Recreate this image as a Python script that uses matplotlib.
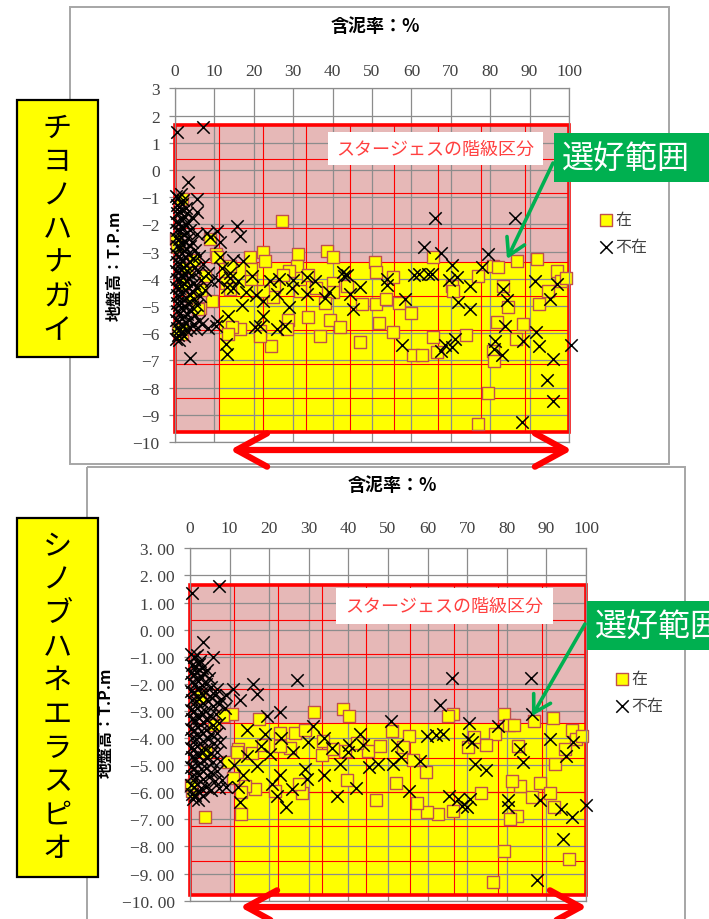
import numpy as np
import matplotlib
matplotlib.use("Agg")
import matplotlib.pyplot as plt
from matplotlib.patches import Rectangle, FancyArrowPatch
from matplotlib.ticker import FuncFormatter

plt.rcParams['font.family'] = ['Noto Sans CJK JP', 'DejaVu Sans']

W, H = 709, 920

# ---- text ----
species_names = ["チヨノハナガイ", "シノブハネエラスピオ"]
x_title = "含泥率：%"
y_title = "地盤高：T.P.m"
legend_labels = ["在", "不在"]
stage_label = "スタージェスの階級区分"
pref_label = "選好範囲"

x_ticks = list(range(0, 101, 10))
y_ticks = list(range(-10, 4))

# Sturges classes (9 classes on each axis) and preferred range
n_class = 9
stage_x = [(0, 100), (0, 100)]
stage_y = [(-9.65, 1.65), (-9.8, 1.63)]
pref_col_start = 1   # preferred range from class 1 on the x axis
pref_row_top = 5     # and up to class edge 5 on the y axis

# ---- data: (含泥率, 地盤高) ----
top_present = [
    (27.2, -1.88), (8.9, -2.55), (10.4, -3.09), (14.0, -3.52), (19.0, -3.20), (22.4, -3.03),
    (22.8, -3.34), (31.3, -3.09), (30.9, -3.52), (38.5, -2.97), (40.0, -3.21), (50.8, -3.39),
    (51.0, -3.76), (55.4, -3.95), (65.6, -3.21), (77.0, -3.90), (80.8, -3.52), (82.1, -3.55),
    (86.9, -3.34), (92.0, -3.28), (96.9, -3.71), (97.9, -4.08), (99.3, -3.99), (94.7, -4.44),
    (92.5, -4.93), (83.2, -4.28), (84.6, -5.05), (81.6, -5.60), (88.4, -5.67), (86.6, -6.22),
    (80.8, -6.65), (81.0, -7.02), (79.5, -8.19), (76.8, -9.33), (70.2, -4.26), (70.5, -4.44),
    (65.6, -6.15), (66.6, -6.70), (73.9, -6.07), (59.9, -5.27), (56.9, -4.90), (55.4, -5.95),
    (60.3, -6.80), (62.6, -6.80), (51.0, -4.93), (51.9, -5.63), (53.5, -4.76), (46.9, -6.32),
    (47.4, -4.93), (43.6, -4.26), (40.0, -4.17), (40.2, -4.50), (38.1, -4.90), (39.3, -5.52),
    (41.9, -5.79), (36.9, -6.10), (33.8, -5.39), (35.9, -4.33), (33.8, -3.88), (31.6, -4.44),
    (29.0, -3.70), (28.8, -5.52), (28.4, -5.85), (27.5, -3.88), (25.1, -4.30), (24.9, -4.67),
    (22.4, -4.44), (21.6, -5.91), (24.3, -6.47), (21.6, -6.10), (19.2, -4.02), (19.2, -3.65),
    (16.5, -5.85), (14.4, -5.79), (13.5, -6.03), (13.0, -4.14), (14.0, -4.38), (9.3, -4.81),
    (10.7, -3.21), (6.3, -5.06), (1.7, -6.03),
    (0.3, -2.55), (0.4, -2.85), (1.7, -1.07), (4.2, -4.75), (1.7, -5.85), (5.9, -5.10),
    (3.0, -3.60), (2.0, -4.20), (0.8, -5.90), (4.8, -3.30), (6.5, -4.40), (7.5, -3.90),
]

top_absent = [
    (0.4, 1.38), (7.2, 1.59), (3.4, -0.46), (5.7, -1.07), (5.6, -1.56), (15.8, -2.05),
    (16.5, -2.42), (10.6, -2.24), (11.4, -2.66), (66.0, -1.75), (86.3, -1.75), (63.3, -2.82),
    (79.5, -3.09), (67.4, -3.07), (3.8, -6.90), (70.2, -3.50), (77.8, -3.58), (17.2, -3.34),
    (11.4, -3.20), (42.7, -3.76), (43.6, -3.88), (44.4, -4.55), (45.2, -5.11), (53.8, -4.02),
    (53.8, -4.24), (60.6, -3.88), (61.9, -3.82), (64.2, -3.82), (65.2, -3.82), (69.6, -4.04),
    (71.5, -3.94), (71.9, -4.86), (74.9, -4.27), (74.9, -5.13), (83.2, -4.37), (84.2, -4.77),
    (83.8, -5.75), (91.3, -4.08), (95.2, -4.73), (96.9, -4.18), (91.6, -5.94), (92.5, -6.48),
    (88.4, -6.29), (96.0, -6.96), (100.5, -6.45), (94.5, -7.72), (96.0, -8.49), (88.0, -9.27),
    (81.3, -6.29), (82.9, -6.80), (81.0, -6.57), (71.1, -6.20), (70.2, -6.50), (68.5, -6.45),
    (67.4, -6.67), (57.5, -6.42), (58.4, -4.76), (39.2, -4.50), (33.4, -4.57), (33.4, -3.94),
    (30.0, -4.04), (29.6, -4.33), (29.0, -5.04), (27.9, -5.74), (25.8, -5.86), (25.8, -4.57),
    (22.4, -4.80), (22.4, -5.36), (21.6, -5.72), (20.3, -5.79), (14.8, -4.33), (14.0, -3.78),
    (14.8, -3.30), (17.0, -4.96), (13.5, -5.36), (13.0, -6.41), (13.2, -6.78), (10.7, -5.55),
    (10.5, -5.72), (6.8, -5.67), (11.0, -4.04), (13.1, -4.29), (14.0, -3.97), (8.1, -2.30),
    (9.0, -2.45), (12.0, -3.60), (16.0, -4.10), (19.5, -3.90), (18.0, -4.50), (24.0, -4.10),
    (26.5, -4.00), (35.5, -4.10), (38.0, -4.70), (47.0, -4.30), (20.5, -4.60), (43.0, -3.90),
    # dense cluster at low mud content
    (0.2, -0.95), (0.8, -1.05), (1.5, -0.90), (2.1, -1.10), (0.4, -1.30), (1.1, -1.35),
    (1.9, -1.25), (2.7, -1.40), (0.6, -1.60), (1.3, -1.55), (2.2, -1.70), (3.0, -1.60),
    (4.5, -1.75), (0.3, -1.90), (1.0, -1.95), (1.7, -1.85), (2.5, -2.00), (3.4, -1.95),
    (0.5, -2.20), (1.2, -2.25), (2.0, -2.15), (2.9, -2.30), (3.8, -2.20), (5.5, -2.35),
    (0.2, -2.50), (0.9, -2.55), (1.6, -2.45), (2.3, -2.60), (3.2, -2.50), (4.3, -2.65),
    (0.6, -2.80), (1.3, -2.85), (2.0, -2.75), (2.8, -2.90), (3.7, -2.80), (5.0, -2.95),
    (0.3, -3.10), (1.0, -3.15), (1.7, -3.05), (2.5, -3.20), (3.3, -3.10), (4.6, -3.25),
    (6.1, -3.15), (0.5, -3.40), (1.2, -3.45), (1.9, -3.35), (2.7, -3.50), (3.7, -3.40),
    (5.2, -3.55), (7.1, -3.45), (0.2, -3.70), (0.9, -3.75), (1.6, -3.65), (2.3, -3.80),
    (3.1, -3.70), (4.1, -3.85), (5.9, -3.75), (8.3, -3.80), (0.6, -4.00), (1.3, -4.05),
    (2.0, -3.95), (2.8, -4.10), (3.6, -4.00), (4.7, -4.15), (6.6, -4.05), (9.1, -4.10),
    (0.3, -4.30), (1.0, -4.35), (1.7, -4.25), (2.5, -4.40), (3.4, -4.30), (4.3, -4.45),
    (5.6, -4.35), (7.6, -4.40), (0.5, -4.60), (1.1, -4.65), (1.9, -4.55), (2.7, -4.70),
    (3.7, -4.60), (4.9, -4.75), (6.3, -4.65), (0.4, -4.90), (0.9, -4.95), (1.6, -4.85),
    (2.3, -5.00), (3.2, -4.90), (4.4, -5.05), (5.6, -4.95), (0.6, -5.20), (1.3, -5.25),
    (2.1, -5.15), (3.0, -5.30), (4.0, -5.20), (5.1, -5.35), (0.3, -5.50), (1.0, -5.55),
    (1.7, -5.45), (2.6, -5.60), (3.6, -5.50), (4.7, -5.65), (6.1, -5.55), (0.5, -5.80),
    (1.2, -5.85), (2.0, -5.75), (2.9, -5.90), (3.9, -5.80), (5.3, -5.85), (8.5, -5.80),
    (0.7, -6.05), (1.5, -6.00), (2.4, -6.10), (0.3, -6.20), (1.1, -6.25),
]

bottom_present = [
    (3.8, -6.90), (13.0, -6.81), (10.5, -3.11), (17.3, -3.30), (31.2, -3.05), (38.6, -2.93),
    (40.2, -3.20), (51.0, -3.73), (55.4, -3.91), (66.5, -3.11), (65.2, -3.20), (79.3, -3.11),
    (80.6, -3.52), (81.8, -3.52), (86.9, -3.36), (91.6, -3.27), (96.4, -3.69), (97.6, -4.04),
    (98.9, -3.94), (76.9, -3.85), (74.8, -4.25), (82.9, -4.28), (70.3, -4.34), (71.6, -3.97),
    (94.7, -4.41), (92.2, -4.96), (88.4, -5.64), (91.0, -6.03), (91.9, -6.56), (86.3, -6.19),
    (83.3, -5.76), (81.2, -5.58), (82.5, -6.87), (80.8, -6.97), (79.3, -8.16), (95.7, -8.47),
    (76.6, -9.30), (73.6, -6.03), (66.3, -6.68), (62.5, -6.81), (59.8, -6.74), (57.4, -6.40),
    (52.0, -5.65), (59.6, -5.26), (56.2, -4.81), (53.9, -4.34), (47.0, -6.30), (39.6, -5.56),
    (45.0, -4.46), (39.1, -4.49), (42.1, -4.18), (33.3, -4.61), (33.5, -4.12), (28.2, -6.01),
    (27.4, -5.70), (25.3, -4.36), (26.5, -3.80), (22.7, -3.80), (22.7, -4.29), (21.5, -5.94),
    (16.4, -5.88), (13.9, -5.76), (10.9, -5.49), (9.7, -4.87), (12.2, -4.41), (15.6, -4.56),
    (18.5, -4.27), (29.0, -3.69), (8.4, -3.20), (11.8, -4.50), (13.0, -6.00), (0.4, -5.95),
    (0.3, -5.75), (36.0, -4.40), (48.0, -4.30), (2.5, -2.50), (6.0, -3.50), (4.0, -4.50),
]

bottom_absent = [
    (26.9, -1.85), (66.1, -1.77), (86.0, -1.77), (63.1, -2.77), (16.0, -2.01), (16.8, -2.38),
    (10.9, -2.20), (22.7, -3.03), (19.4, -3.20), (50.7, -3.36), (70.5, -3.45), (77.7, -3.57),
    (86.3, -3.11), (90.9, -4.04), (96.6, -4.16), (94.9, -4.66), (83.3, -4.41), (84.2, -4.90),
    (72.0, -4.96), (74.8, -5.17), (70.3, -4.04), (71.1, -4.16), (63.8, -3.85), (62.1, -3.88),
    (59.8, -3.93), (58.1, -4.83), (55.4, -5.94), (53.4, -4.70), (52.2, -4.27), (51.2, -4.96),
    (47.4, -4.96), (45.3, -5.08), (43.6, -4.27), (42.9, -3.85), (40.2, -4.27), (40.0, -4.52),
    (37.9, -4.96), (37.2, -6.15), (41.9, -5.86), (33.8, -5.36), (35.8, -4.36), (33.8, -4.00),
    (31.1, -3.57), (29.0, -5.15), (29.5, -5.52), (25.7, -5.89), (24.2, -6.56), (21.9, -6.13),
    (22.7, -5.38), (20.6, -5.70), (20.2, -4.59), (16.8, -5.02), (14.3, -4.66), (12.6, -6.37),
    (13.5, -5.38), (14.3, -3.69), (19.0, -3.85), (23.1, -4.00), (29.9, -4.16), (80.4, -6.30),
    (80.4, -6.56), (67.8, -6.25), (68.6, -6.50), (70.7, -6.25), (69.9, -6.56), (65.5, -6.13),
    (88.4, -6.30), (93.8, -6.62), (96.4, -6.93), (100.0, -6.47), (94.3, -7.72), (87.7, -9.25),
    (0.4, 1.35), (7.2, 1.60), (3.4, -0.45), (5.9, -1.02), (12.5, -2.60), (9.0, -2.40),
    (18.0, -4.30), (26.0, -4.50), (11.0, -5.00), (12.0, -5.80),
    # dense cluster at low mud content
    (0.3, -0.90), (1.0, -1.00), (1.8, -0.95), (2.6, -1.15), (0.5, -1.30), (1.3, -1.35),
    (2.2, -1.25), (3.1, -1.40), (4.2, -1.50), (0.2, -1.60), (0.9, -1.65), (1.7, -1.55),
    (2.6, -1.70), (3.6, -1.65), (4.9, -1.80), (0.5, -1.95), (1.3, -2.00), (2.1, -1.90),
    (3.0, -2.05), (4.1, -2.00), (5.4, -2.10), (6.8, -2.20), (0.3, -2.25), (1.0, -2.30),
    (1.9, -2.20), (2.8, -2.35), (3.8, -2.30), (5.0, -2.45), (6.3, -2.40), (7.8, -2.55),
    (0.6, -2.60), (1.4, -2.65), (2.3, -2.55), (3.3, -2.70), (4.5, -2.65), (5.8, -2.80),
    (7.2, -2.75), (8.8, -2.90), (0.2, -2.95), (0.9, -3.00), (1.8, -2.90), (2.7, -3.05),
    (3.8, -3.00), (5.1, -3.15), (6.6, -3.10), (0.5, -3.30), (1.3, -3.35), (2.2, -3.25),
    (3.2, -3.40), (4.4, -3.35), (5.8, -3.50), (7.4, -3.45), (0.3, -3.65), (1.0, -3.70),
    (1.9, -3.60), (2.9, -3.75), (4.0, -3.70), (5.3, -3.85), (6.9, -3.80), (0.6, -4.00),
    (1.4, -4.05), (2.3, -3.95), (3.4, -4.10), (4.6, -4.05), (6.0, -4.20), (7.7, -4.15),
    (0.2, -4.35), (0.9, -4.40), (1.8, -4.30), (2.8, -4.45), (3.9, -4.40), (5.2, -4.55),
    (6.7, -4.50), (0.5, -4.70), (1.3, -4.75), (2.2, -4.65), (3.2, -4.80), (4.4, -4.75),
    (5.8, -4.90), (7.5, -4.85), (0.3, -5.05), (1.0, -5.10), (1.9, -5.00), (2.9, -5.15),
    (4.0, -5.10), (5.3, -5.25), (6.9, -5.20), (0.6, -5.40), (1.4, -5.45), (2.3, -5.35),
    (3.4, -5.50), (4.7, -5.45), (6.2, -5.60), (8.0, -5.55), (0.2, -5.75), (0.9, -5.80),
    (1.8, -5.70), (2.8, -5.85), (4.0, -5.80), (5.4, -5.90), (7.3, -5.85), (9.2, -5.80),
    (0.5, -6.05), (1.3, -6.10), (2.3, -6.00), (3.3, -6.15), (0.8, -6.25), (1.9, -6.30),
]

# ---- layout (pixels) ----
panels = [
    dict(present=top_present, absent=top_absent, ax_px=(175, 89.3, 569, 443),
         frame=(70, 8, 669, 465), title_xy=(375, 27), ylab_xy=(115, 266), xpad=7, fmt="{:.0f}",
         box=(17, 101, 98, 358), char0=128.5, pitch=33.8,
         stage_box=(328, 133, 543, 166), pref_box=(554, 134, 720, 183),
         g_arrow=((553, 164), (507, 260)), r_arrow=((230, 451), (572, 451)), leg=(600, 212)),
    dict(present=bottom_present, absent=bottom_absent, ax_px=(190, 549.3, 586, 901.7),
         frame=(87, 468, 685, 930), title_xy=(392, 486), ylab_xy=(106, 723), xpad=8.5,
         fmt="{:.2f}", box=(17, 519, 98, 878), char0=547, pitch=33.6,
         stage_box=(336, 589, 553, 625), pref_box=(587, 602, 720, 651),
         g_arrow=((585, 625), (532, 717)), r_arrow=((240, 908), (587, 908)), leg=(616, 671)),
]

fig = plt.figure(figsize=(W / 100, H / 100), dpi=100)
ov = fig.add_axes([0, 0, 1, 1], zorder=5)
ov.set_xlim(0, W)
ov.set_ylim(H, 0)
ov.axis('off')

grid_c = '#8c8c8c'
text_c = '#404040'

for i, p in enumerate(panels):
    x0, y0, x1, y1 = p['ax_px']
    ax = fig.add_axes([x0 / W, 1 - y1 / H, (x1 - x0) / W, (y1 - y0) / H])
    ax.set_xlim(0, 100)
    ax.set_ylim(-10, 3)
    ax.xaxis.tick_top()
    ax.set_xticks(x_ticks)
    ax.set_yticks(y_ticks)
    fmt = p['fmt']
    ax.yaxis.set_major_formatter(FuncFormatter(
        lambda v, pos, fmt=fmt: fmt.format(v).replace('-', '\u2212').replace('.', '. ')))
    ax.tick_params(axis='x', length=0, pad=p['xpad'], labelsize=12.5, labelcolor=text_c,
                   labelfontfamily='Liberation Serif')
    ax.tick_params(axis='y', length=4, width=0.9, color=grid_c, pad=7, labelsize=12.5,
                   labelcolor=text_c, labelfontfamily='Liberation Serif')
    ax.grid(True, color=grid_c, lw=0.9)
    ax.set_axisbelow(True)
    for s in ax.spines.values():
        s.set_color(grid_c)
        s.set_linewidth(0.9)

    # Sturges class grid
    xe = np.linspace(stage_x[i][0], stage_x[i][1], n_class + 1)
    ye = np.linspace(stage_y[i][0], stage_y[i][1], n_class + 1)
    ax.add_patch(Rectangle((xe[0], ye[0]), xe[-1] - xe[0], ye[-1] - ye[0],
                           facecolor='#E6B8B7', edgecolor='none', zorder=0.2))
    ax.add_patch(Rectangle((xe[pref_col_start], ye[0]), xe[-1] - xe[pref_col_start],
                           ye[pref_row_top] - ye[0], facecolor='#FFFF00', edgecolor='none', zorder=0.3))
    ax.vlines(xe[1:-1], ye[0], ye[-1], color='#FF0000', lw=0.8, zorder=0.8)
    ax.hlines(ye[1:-1], xe[0], xe[-1], color='#FF0000', lw=0.8, zorder=0.8)
    ax.add_patch(Rectangle((xe[0], ye[0]), xe[-1] - xe[0], ye[-1] - ye[0], fill=False,
                           edgecolor='#FF0000', lw=2.6, zorder=0.9, clip_on=False))

    pr = np.array(p['present'])
    ab = np.array(p['absent'])
    h1 = ax.scatter(pr[:, 0], pr[:, 1], marker='s', s=70, facecolor='#FFFF00',
                    edgecolor='#C0504D', linewidths=1.0, zorder=2, clip_on=False)
    h2 = ax.scatter(ab[:, 0], ab[:, 1], marker='x', s=80, color='black',
                    linewidths=1.1, zorder=3, clip_on=False)

    ax.legend([h1, h2], legend_labels, loc='upper left', bbox_to_anchor=p['leg'],
              bbox_transform=ov.transData, frameon=False, borderaxespad=0, borderpad=0,
              handlelength=0.7, handletextpad=0.25, labelspacing=0.65, fontsize=11.5,
              scatterpoints=1, labelcolor=text_c)

    # chart frame and annotations (pixel coordinates on the overlay)
    fx0, fy0, fx1, fy1 = p['frame']
    ov.add_patch(Rectangle((fx0, fy0), fx1 - fx0, fy1 - fy0, fill=False,
                           edgecolor='#A6A6A6', lw=1.4, zorder=1))
    ov.text(*p['title_xy'], x_title, ha='center', va='center', fontsize=13, fontweight='bold')
    ov.text(*p['ylab_xy'], y_title, ha='center', va='center', rotation=90,
            fontsize=11.5, fontweight='bold')

    bx0, by0, bx1, by1 = p['box']
    ov.add_patch(Rectangle((bx0, by0), bx1 - bx0, by1 - by0, facecolor='#FFFF00',
                           edgecolor='black', lw=1.6, zorder=3))
    for k, ch in enumerate(species_names[i]):
        ov.text((bx0 + bx1) / 2, p['char0'] + k * p['pitch'], ch, ha='center', va='center',
                fontsize=21, zorder=4)

    sx0, sy0, sx1, sy1 = p['stage_box']
    ov.add_patch(Rectangle((sx0, sy0), sx1 - sx0, sy1 - sy0, facecolor='white',
                           edgecolor='none', zorder=2))
    ov.text((sx0 + sx1) / 2, (sy0 + sy1) / 2, stage_label, ha='center', va='center',
            fontsize=13, color='#FF4040', zorder=3)

    gx0, gy0, gx1, gy1 = p['pref_box']
    ov.add_patch(Rectangle((gx0, gy0), gx1 - gx0, gy1 - gy0, facecolor='#00B050',
                           edgecolor='none', zorder=3))
    ov.text(gx0 + 8, (gy0 + gy1) / 2, pref_label, ha='left', va='center',
            fontsize=23, color='white', zorder=4)

    ov.add_patch(FancyArrowPatch(*p['g_arrow'], arrowstyle='->,head_length=0.6,head_width=0.35',
                                 mutation_scale=20, color='#00B050', lw=2.6,
                                 shrinkA=0, shrinkB=0, zorder=4))
    ov.add_patch(FancyArrowPatch(*p['r_arrow'], arrowstyle='<->,head_length=0.55,head_width=0.3',
                                 mutation_scale=40, color='#FF0000', lw=4.5,
                                 shrinkA=0, shrinkB=0, zorder=4))

fig.savefig('out.png', dpi=100)
